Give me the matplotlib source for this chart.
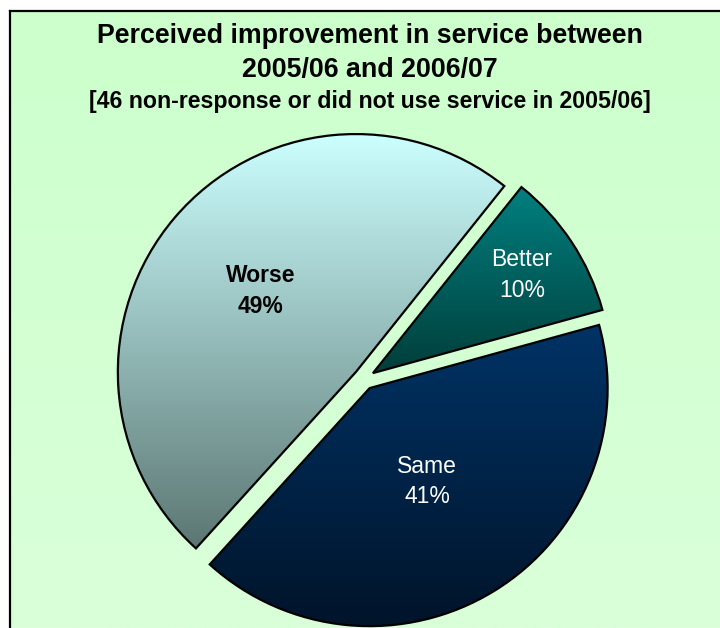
import numpy as np
import matplotlib.pyplot as plt
from matplotlib.colors import LinearSegmentedColormap

# datos de la encuesta
categorias = ['Better', 'Same', 'Worse']
porcentajes = [10, 41, 49]

titulo = 'Perceived improvement in service between\n2005/06 and 2006/07'
subtitulo = '[46 non-response or did not use service in 2005/06]'

# degradado (arriba, abajo) de cada porcion
colores = {
    'Better': ('#008080', '#003E3A'),
    'Same': ('#003366', '#00142A'),
    'Worse': ('#CCFFFF', '#5C7773'),
}
distancia_etiqueta = {'Better': 0.75, 'Same': 0.46, 'Worse': 0.525}
color_texto = {'Better': 'white', 'Same': 'white', 'Worse': 'black'}
peso_texto = {'Better': 'normal', 'Same': 'normal', 'Worse': 'bold'}

plt.rcParams['font.family'] = ['Liberation Sans', 'DejaVu Sans']

W, H = 720, 628
fig = plt.figure(figsize=(W / 100, H / 100), dpi=100)
fig.patch.set_facecolor('white')

# fondo verde con borde
fondo = fig.add_axes([10 / W, 0, 1 - 10 / W, 1 - 11 / H])
grad = np.linspace(0, 1, 256).reshape(-1, 1)
fondo.imshow(grad, aspect='auto', extent=(0, 1, 0, 1),
             cmap=LinearSegmentedColormap.from_list('f', ['#CCFFCC', '#DAFFDA']))
fondo.set_xticks([])
fondo.set_yticks([])
for lado in ['right', 'bottom']:
    fondo.spines[lado].set_visible(False)
for lado in ['left', 'top']:
    fondo.spines[lado].set_linewidth(1.6)

# pastel
ax = fig.add_axes([0, 0, 1, 1])
ax.patch.set_alpha(0)
cx, cy, r = 364, 379, 238
wedges, _ = ax.pie(porcentajes, startangle=51.4, counterclock=False,
                   explode=[0.045] * 3, radius=1, center=(0, 0),
                   wedgeprops=dict(edgecolor='black', linewidth=1.6))
ax.set_aspect('auto')
ax.axis('off')

for w, nombre, valor in zip(wedges, categorias, porcentajes):
    arriba, abajo = colores[nombre]
    t = np.radians(np.linspace(w.theta1, w.theta2, 200))
    x0, y0 = w.center
    xs = np.concatenate([[x0], x0 + w.r * np.cos(t)])
    ys = np.concatenate([[y0], y0 + w.r * np.sin(t)])
    cmap = LinearSegmentedColormap.from_list(nombre, [abajo, arriba])
    im = ax.imshow(grad, origin='lower', aspect='auto', cmap=cmap,
                   extent=(xs.min(), xs.max(), ys.min(), ys.max()), zorder=1)
    im.set_clip_path(w)
    w.set_facecolor('none')
    w.set_zorder(2)
    medio = np.radians((w.theta1 + w.theta2) / 2)
    d = distancia_etiqueta[nombre]
    ax.text(x0 + d * np.cos(medio), y0 + d * np.sin(medio),
            f'{nombre}\n{valor}%', ha='center', va='center',
            fontsize=16.5, color=color_texto[nombre],
            fontweight=peso_texto[nombre], linespacing=1.42, zorder=3)

ax.set_xlim(-cx / r, (W - cx) / r)
ax.set_ylim((cy - H) / r, cy / r)

fig.text(370 / W, 1 - 53 / H, titulo, ha='center', va='center',
         fontsize=19.3, fontweight='bold', linespacing=1.4)
fig.text(370 / W, 1 - 101.5 / H, subtitulo, ha='center', va='center',
         fontsize=16.7, fontweight='bold')

fig.savefig('out.png', dpi=100)
